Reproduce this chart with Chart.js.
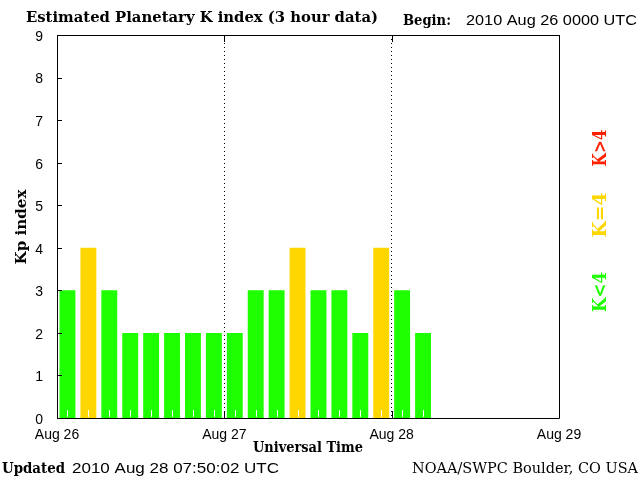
<!DOCTYPE html>
<html>
<head>
<meta charset="utf-8">
<script src="https://cdn.jsdelivr.net/npm/chart.js@4.4.1/dist/chart.umd.min.js"></script>
<style>
	html, body { margin: 0; padding: 0; background: #fff; }
	#kpChart { display: block; }
</style>
</head>
<body>
<canvas id="kpChart" width="640" height="480"></canvas>
<script>
// Kp values, one per 3 hour block starting 2010 Aug 26 0000 UTC
const kpValues = [3, 4, 3, 2, 2, 2, 2, 2, 2, 3, 3, 4, 3, 3, 2, 4, 3, 2];
const dayLabels = ['Aug 26', 'Aug 27', 'Aug 28', 'Aug 29'];
const hoursPerBlock = 3;
const hoursPerDay = 24;
const yMin = 0;
const yMax = 9;

const titleText = 'Estimated Planetary K index (3 hour data)';
const beginLabel = 'Begin:';
const beginText = '2010 Aug 26 0000 UTC';
const updatedLabel = 'Updated';
const updatedText = '2010 Aug 28 07:50:02 UTC';
const sourceText = 'NOAA/SWPC Boulder, CO USA';
const xTitle = 'Universal Time';
const yTitle = 'Kp index';

const GREEN = '#1eff00';
const GOLD = '#ffd700';
const RED = '#ff2000';

function kpColor(v){
	if (v < 4) return GREEN;
	if (v === 4) return GOLD;
	return RED
}

const SERIF = '"DejaVu Serif", "Liberation Serif", serif';
const SANS = '"Liberation Sans", Arial, sans-serif';

// draw text stretched to a given width, left edge at x
function fitText(ctx, text, x, y, width, font, color){
	ctx.save();
	ctx.font = font;
	const w = ctx.measureText(text).width;
	ctx.translate(x, y);
	ctx.scale(width / w, 1);
	ctx.fillStyle = color;
	ctx.textAlign = 'left';
	ctx.textBaseline = 'middle';
	ctx.fillText(text, 0, 0);
	ctx.restore();
}

// vertical text (reads bottom to top), centred on cx, cy
function fitTextUp(ctx, text, cx, cy, length, font, color){
	ctx.save();
	ctx.font = font;
	const w = ctx.measureText(text).width;
	ctx.translate(cx, cy);
	ctx.rotate(-Math.PI / 2);
	ctx.scale(length / w, 1);
	ctx.fillStyle = color;
	ctx.textAlign = 'center';
	ctx.textBaseline = 'middle';
	ctx.fillText(text, 0, 0);
	ctx.restore();
}

const overlay = {
	id: 'overlay',
	afterDraw(chart){
		const ctx = chart.ctx;
		const area = chart.chartArea;
		const xs = chart.scales.x;
		const ys = chart.scales.y;

		ctx.save();
		ctx.lineWidth = 1;

		// white minor ticks at the centre of each block
		ctx.strokeStyle = '#fff';
		ctx.beginPath();
		kpValues.forEach((v, i) => {
			const px = Math.round(xs.getPixelForValue(i * hoursPerBlock + hoursPerBlock / 2)) + 0.5;
			ctx.moveTo(px, area.bottom - 1);
			ctx.lineTo(px, area.bottom - 8);
		});
		ctx.stroke();

		ctx.strokeStyle = '#000';
		ctx.beginPath();
		// frame
		ctx.rect(Math.round(area.left) + 0.5, Math.round(area.top) + 0.5,
			Math.round(area.right - area.left), Math.round(area.bottom - area.top));
		// inward y ticks
		ys.ticks.forEach(t => {
			const py = Math.round(ys.getPixelForValue(t.value)) + 0.5;
			ctx.moveTo(area.left, py);
			ctx.lineTo(area.left + 5, py);
		});
		// day ticks top and bottom
		xs.ticks.forEach(t => {
			const px = Math.round(xs.getPixelForValue(t.value)) + 0.5;
			ctx.moveTo(px, area.bottom);
			ctx.lineTo(px, area.bottom - 7);
			ctx.moveTo(px, area.top);
			ctx.lineTo(px, area.top + 7);
		});
		ctx.stroke();
		ctx.restore();

		// texts
		fitText(ctx, titleText, 26, 18, 352, '600 15px ' + SERIF, '#000');
		fitText(ctx, beginLabel, 403, 21, 48, 'bold 14px ' + SERIF, '#000');
		fitText(ctx, beginText, 466, 21, 171, '14px ' + SANS, '#000');
		fitText(ctx, updatedLabel, 2, 469, 63, 'bold 14px ' + SERIF, '#000');
		fitText(ctx, updatedText, 72, 469, 207, '14px ' + SANS, '#000');
		fitText(ctx, sourceText, 412, 469, 226, '14px ' + SERIF, '#000');
		fitText(ctx, xTitle, 253, 448, 110, 'bold 14px ' + SERIF, '#000');
		fitTextUp(ctx, yTitle, 22, 227, 75, 'bold 14px ' + SERIF, '#000');

		// colour key on the right
		fitTextUp(ctx, 'K>4', 601, 148, 37, 'bold 18px ' + SERIF, RED);
		fitTextUp(ctx, 'K=4', 601, 215, 45, 'bold 18px ' + SERIF, GOLD);
		fitTextUp(ctx, 'K<4', 601, 292, 40, 'bold 18px ' + SERIF, GREEN);
	}
};

const ctx = document.getElementById('kpChart').getContext('2d');
const kpChart = new Chart(ctx, {
	type: 'bar',
	data: {
		datasets: [{
			data: kpValues.map((v, i) => ({ x: i * hoursPerBlock + hoursPerBlock / 2, y: v })),
			backgroundColor: kpValues.map(kpColor),
			borderWidth: 0,
			barPercentage: 0.76,
			categoryPercentage: 1
		}]
	},
	options: {
		responsive: false,
		animation: false,
		layout: {
			padding: { top: 35, right: 81, left: 0, bottom: 0 }
		},
		plugins: {
			legend: { display: false },
			tooltip: { enabled: false }
		},
		scales: {
			x: {
				type: 'linear',
				offset: false,
				min: 0,
				max: (dayLabels.length - 1) * hoursPerDay,
				afterFit: s => { s.height = 62; },
				afterBuildTicks: s => {
					s.ticks = dayLabels.map((d, i) => ({ value: i * hoursPerDay }));
				},
				ticks: {
					callback: v => dayLabels[v / hoursPerDay],
					color: '#000',
					font: { family: SANS, size: 14 },
					padding: 9,
					maxRotation: 0,
					autoSkip: false
				},
				grid: {
					offset: false,
					color: '#000',
					lineWidth: 1,
					drawTicks: false
				},
				border: { display: false, dash: [1, 3] }
			},
			y: {
				min: yMin,
				max: yMax,
				afterFit: s => { s.width = 57; },
				ticks: {
					stepSize: 1,
					color: '#000',
					font: { family: SANS, size: 14 },
					padding: 6,
					labelOffset: 2
				},
				grid: { display: false },
				border: { display: false }
			}
		}
	},
	plugins: [overlay]
});
</script>
</body>
</html>
